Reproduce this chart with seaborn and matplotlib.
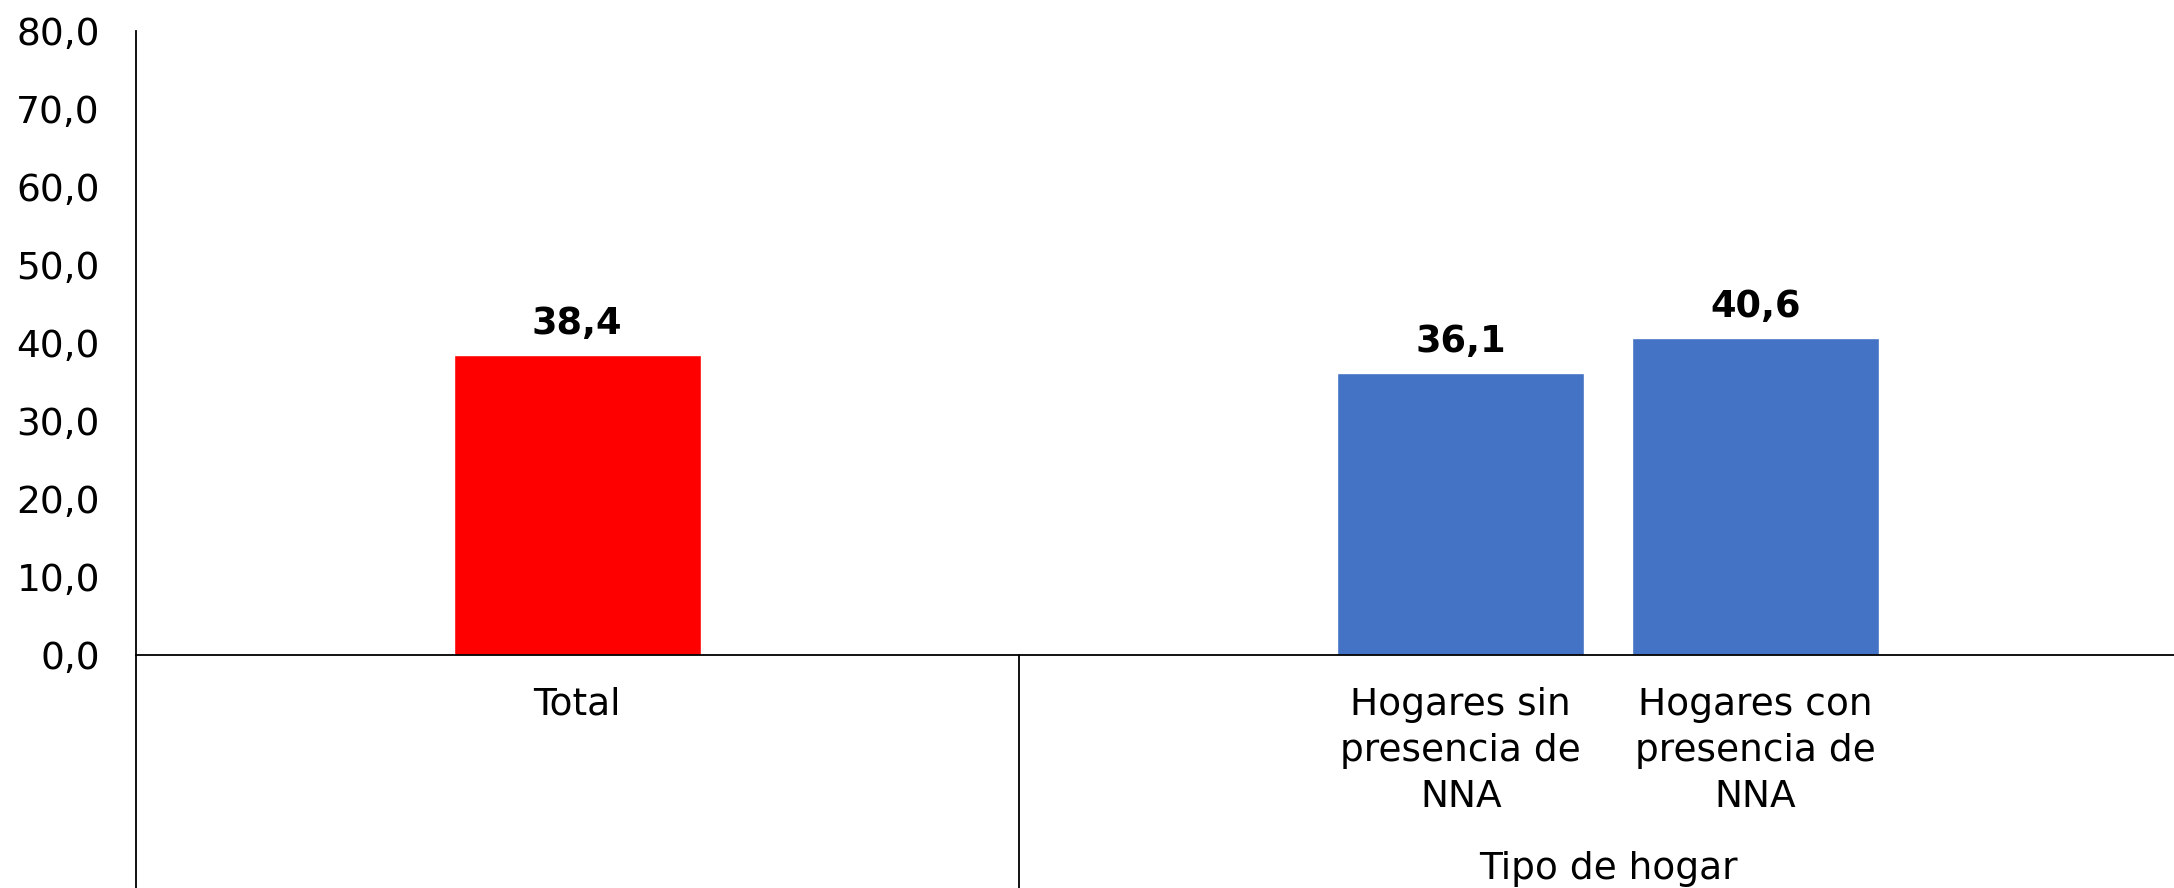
import numpy as np
import pandas as pd
import matplotlib
matplotlib.use("Agg")
import matplotlib.pyplot as plt
import matplotlib.transforms as mtransforms
from matplotlib.ticker import FuncFormatter
import seaborn as sns

# data
categories = ["Total", "Hogares sin\npresencia de\nNNA", "Hogares con\npresencia de\nNNA"]
values = [38.4, 36.1, 40.6]
bar_colors = ["#FF0000", "#4472C4", "#4472C4"]
group_label = "Tipo de hogar"

# slot layout (excel-like multi level axis, 7 slots)
slots = [1, 4, 5]

sns.set_style("white")
plt.rcParams['font.family'] = ['DejaVu Sans']
plt.rcParams['text.color'] = 'black'
plt.rcParams['xtick.color'] = 'black'
plt.rcParams['ytick.color'] = 'black'

df = pd.DataFrame({'slot': slots, 'value': values, 'cat': categories})

fig = plt.figure(figsize=(21.74, 8.88), dpi=100)
ax = fig.add_axes([136 / 2174, 1 - 655 / 888, 1 - 136 / 2174, (655 - 31) / 888])

sns.barplot(data=df, x='slot', y='value', hue='cat', palette=bar_colors,
            native_scale=True, width=0.84, legend=False, ax=ax, saturation=1)

slot_w = 294.5
x_left = -0.5 - 1.25 / slot_w + 0.006
ax.set_xlim(x_left, x_left + (2174 - 136) / slot_w)
ax.set_ylim(0, 80)
ax.set_yticks(np.arange(0, 81, 10))
ax.yaxis.set_major_formatter(FuncFormatter(lambda v, p: f"{v:.1f}".replace('.', ',')))
ax.set_xticks(slots)
ax.set_xticklabels(categories, linespacing=1.36)
ax.tick_params(axis='y', length=0, pad=26, labelsize=27)
ax.tick_params(axis='x', length=0, pad=23, labelsize=27)
ax.set_xlabel('')
ax.set_ylabel('')

for s in ['top', 'right']:
    ax.spines[s].set_visible(False)
for s in ['left', 'bottom']:
    ax.spines[s].set_color('black')
    ax.spines[s].set_linewidth(1.3)

for x, v in zip(slots, values):
    ax.annotate(f"{v:.1f}".replace('.', ','), (x, v), xytext=(0, 9.5), textcoords='offset points',
                ha='center', va='bottom', fontsize=26.5, fontweight='bold', color='black')

# group separators below the axis
trans = mtransforms.blended_transform_factory(ax.transData, fig.transFigure)
y0 = 1 - 655 / 888
for xs in [x_left, 2.5]:
    ax.plot([xs, xs], [y0, 0], transform=trans, color='black', lw=1.3, clip_on=False)

ax.text(4.5, 1 - 869 / 888, group_label, transform=trans, ha='center', va='center',
        fontsize=27, color='black')

fig.savefig("out.png", dpi=100)
